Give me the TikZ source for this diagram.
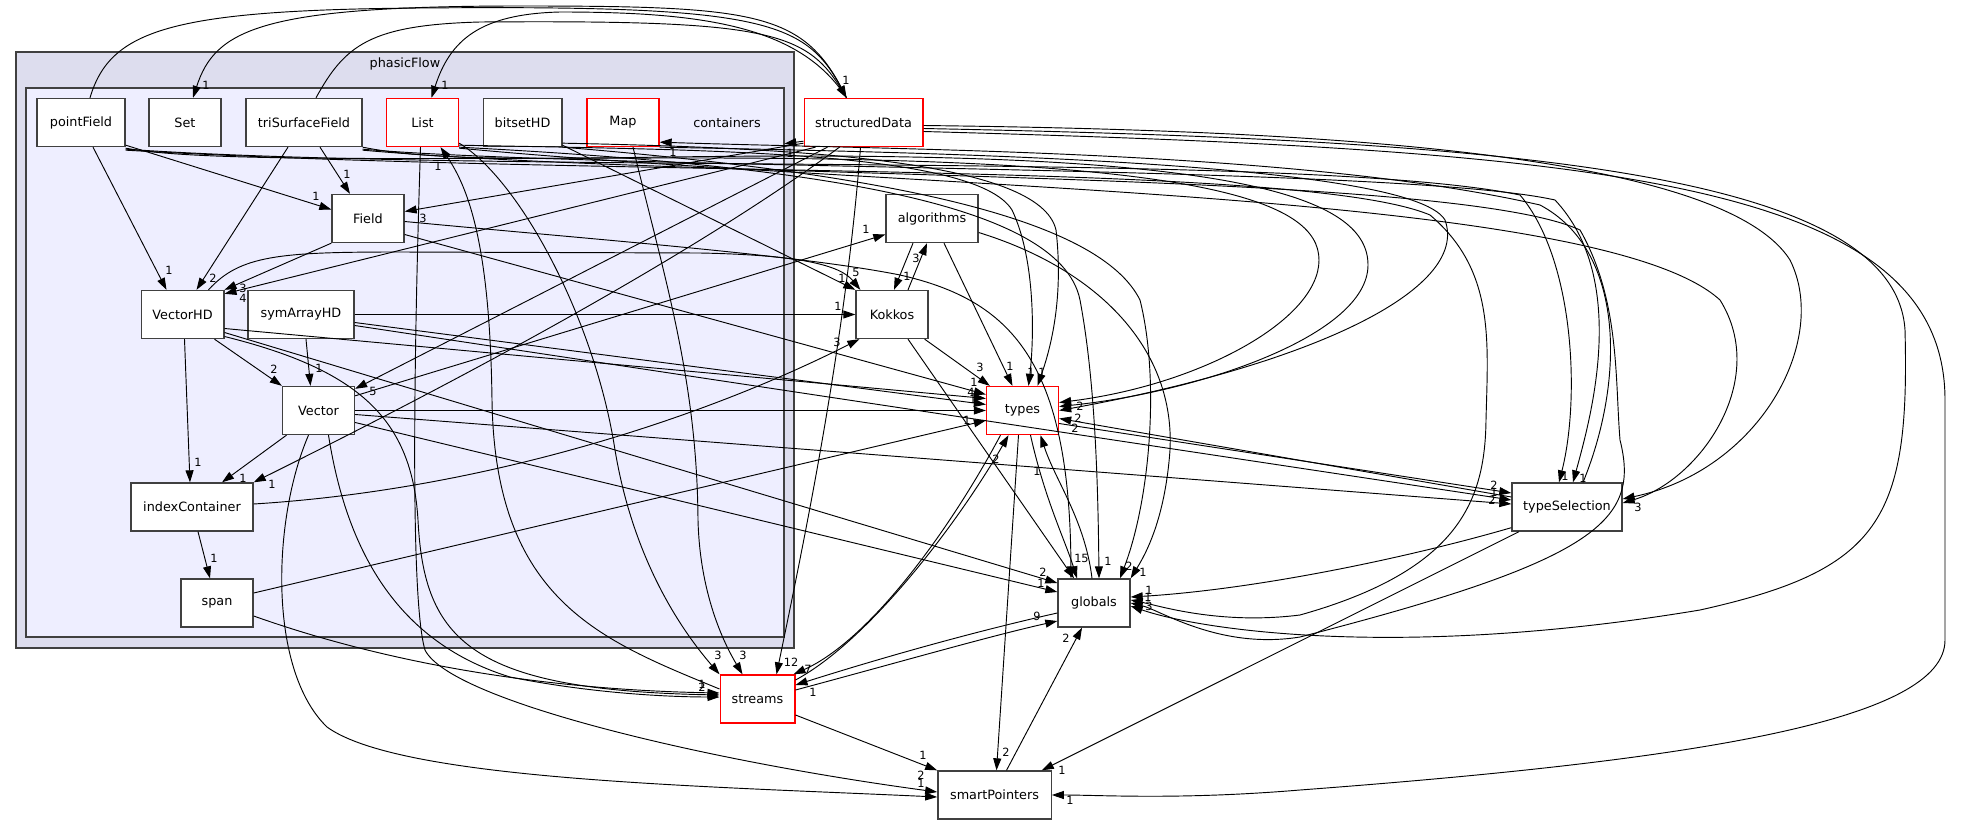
\documentclass[tikz,border=0pt]{standalone}
\usepackage{fontspec}
\setmainfont{DejaVu Sans}
\usetikzlibrary{arrows.meta,calc}
\definecolor{outerfill}{HTML}{DDDDEE}
\definecolor{innerfill}{HTML}{EEEEFF}
\definecolor{boxgray}{HTML}{404040}
\tikzset{
  dirbox/.style={draw=boxgray, line width=1pt, fill=white, minimum height=36pt,
    inner sep=0pt, font=\fontsize{9.6}{11}\selectfont},
  reddir/.style={dirbox, draw=red},
  dep/.style={draw=black, line width=0.7pt, -{Triangle[length=9pt,width=6pt]}},
  cnt/.style={font=\fontsize{8.5}{10}\selectfont, inner sep=0pt},
}
\begin{document}
\begin{tikzpicture}[x=0.75pt,y=-0.75pt]
\useasboundingbox (0,0) rectangle (1971,824);

% clusters
\draw[boxgray, fill=outerfill, line width=1pt] (16,52) rectangle (794,648);
\node[font=\fontsize{9.6}{11}\selectfont] (phasicFlow) at (405,64) {phasicFlow};
\draw[boxgray, fill=innerfill, line width=1pt] (26,88) rectangle (784,637);
\node[font=\fontsize{9.6}{11}\selectfont, minimum width=85.5pt, minimum height=36pt, inner sep=0pt] (containers) at (727,122.5) {containers};

% directories
\node[dirbox, minimum width=66pt] (pointField) at (81,122.5) {pointField};
\node[dirbox, minimum width=54pt] (Set) at (185,122.5) {Set};
\node[dirbox, minimum width=87pt] (triSurfaceField) at (304,122.5) {triSurfaceField};
\node[reddir, minimum width=54pt] (List) at (422.5,122.5) {List};
\node[dirbox, minimum width=59pt] (bitsetHD) at (522.5,122.5) {bitsetHD};
\node[reddir, minimum width=54pt] (Map) at (623,122.5) {Map};
\node[reddir, minimum width=89pt] (structuredData) at (863.5,122.5) {structuredData};
\node[dirbox, minimum width=54pt] (Field) at (368,218.5) {Field};
\node[dirbox, minimum width=69pt] (algorithms) at (932,218.5) {algorithms};
\node[dirbox, minimum width=62pt] (VectorHD) at (182.5,314.5) {VectorHD};
\node[dirbox, minimum width=79.5pt] (symArrayHD) at (301,314.5) {symArrayHD};
\node[dirbox, minimum width=54pt] (Kokkos) at (892,314.5) {Kokkos};
\node[dirbox, minimum width=54pt] (Vector) at (318.5,410.5) {Vector};
\node[reddir, minimum width=54pt] (types) at (1022.5,410.5) {types};
\node[dirbox, minimum width=91.5pt] (indexContainer) at (192,507) {indexContainer};
\node[dirbox, minimum width=82.5pt] (typeSelection) at (1567,507) {typeSelection};
\node[dirbox, minimum width=54pt] (span) at (217,603) {span};
\node[dirbox, minimum width=54pt] (globals) at (1094,603) {globals};
\node[reddir, minimum width=56pt] (streams) at (757.5,699) {streams};
\node[dirbox, minimum width=85pt] (smartPointers) at (994.5,795) {smartPointers};

% arcs over the top
\draw[dep] ($(pointField.north)+(9,0)$) .. controls (110,30) and (170,10) .. (420,8) .. controls (760,5) and (805,20) .. ($(structuredData.north)+(-17,0)$) node[cnt] at (846,80) {1};
\draw[dep] ($(triSurfaceField.north)+(12,0)$) .. controls (345,45) and (370,25) .. (480,22) .. controls (760,20) and (805,30) .. ($(structuredData.north)+(-17,0)$);
\draw[dep] ($(structuredData.north)+(-17,0)$) .. controls (805,12) and (760,6) .. (520,6) .. controls (260,6) and (215,30) .. ($(Set.north)+(8,0)$) node[cnt] at (206,85) {1};
\draw[dep] ($(structuredData.north)+(-17,0)$) .. controls (800,25) and (700,12) .. (560,12) .. controls (480,14) and (450,40) .. ($(List.north)+(9,0)$) node[cnt] at (445,85) {1};

% inside containers
\draw[dep] ($(pointField.south)+(12,0)$) -- ($(VectorHD.north)+(-16,0)$) node[cnt] at (169,270) {1};
\draw[dep] ($(pointField.south east)+(0,-2)$) -- ($(Field.west)+(0,-9)$) node[cnt] at (316,196) {1};
\draw[dep] ($(triSurfaceField.south)+(-16,0)$) -- ($(VectorHD.north)+(14,0)$) node[cnt] at (213,278) {2};
\draw[dep] ($(triSurfaceField.south)+(16,0)$) -- ($(Field.north)+(-18,0)$) node[cnt] at (347,174) {1};
\draw[dep] (Field.south west) -- (VectorHD.north east) node[cnt] at (243,288) {3};
\draw[dep] ($(structuredData.south west)+(12,0)$) -- ($(VectorHD.north east)+(0,4)$) node[cnt] at (243,298) {4};
\draw[dep] ($(structuredData.south west)+(0,-4)$) -- ($(Field.east)+(0,-7)$) node[cnt] at (423,218) {3};
\draw[dep] ($(VectorHD.south)+(32,0)$) -- (Vector.north west) node[cnt] at (274,369) {2};
\draw[dep] ($(symArrayHD.south)+(5,0)$) -- ($(Vector.north)+(-8,0)$) node[cnt] at (319,368) {1};
\draw[dep] ($(VectorHD.south)+(2,0)$) -- ($(indexContainer.north)+(-2,0)$) node[cnt] at (198,462) {1};
\draw[dep] ($(Vector.south)+(-32,0)$) -- ($(indexContainer.north)+(30,0)$) node[cnt] at (243,478) {1};
\draw[dep] ($(structuredData.south west)+(36,0)$) .. controls (700,250) and (480,370) .. (indexContainer.north east) node[cnt] at (272,484) {1};
\draw[dep] ($(structuredData.south west)+(24,0)$) -- ($(Vector.north east)+(0,3)$) node[cnt] at (373,391) {5};
\draw[dep] ($(indexContainer.south)+(6,0)$) -- ($(span.north)+(-7,0)$) node[cnt] at (214,558) {1};
\draw[dep] ($(indexContainer.east)+(0,-3)$) .. controls (480,490) and (700,420) .. ($(Kokkos.south west)+(4,0)$) node[cnt] at (837,342) {3};
\draw[dep] ($(Vector.north east)+(0,10)$) -- ($(algorithms.west)+(0,16)$) node[cnt] at (866,229) {1};
\draw[dep] ($(structuredData.south west)+(0,-6)$) -- ($(containers.south east)+(0,-3)$) node[cnt] at (790,153) {1};

% Kokkos and algorithms
\draw[dep] ($(algorithms.south)+(-19,0)$) -- ($(Kokkos.north)+(2,0)$) node[cnt] at (907,276) {1};
\draw[dep] ($(Kokkos.north)+(16,0)$) -- ($(algorithms.south)+(-5,0)$) node[cnt] at (916,258) {3};
\draw[dep] ($(VectorHD.north east)+(-16,0)$) .. controls (240,255) and (280,252) .. (400,252) -- (700,253) .. controls (800,255) and (840,265) .. ($(Kokkos.north west)+(5,0)$) node[cnt] at (856,272) {5};
\draw[dep] ($(bitsetHD.south east)+(0,-2)$) -- (Kokkos.north west) node[cnt] at (842,278) {1};
\draw[dep] (symArrayHD.east) -- (Kokkos.west) node[cnt] at (838,306) {1};
\draw[dep] ($(Kokkos.south east)+(-4,0)$) -- ($(types.north west)+(4,0)$) node[cnt] at (980,367) {3};
\draw[dep] ($(algorithms.south)+(12,0)$) -- ($(types.north)+(-10,0)$) node[cnt] at (1010,366) {1};
\draw[dep] ($(Kokkos.south)+(16,0)$) -- ($(globals.north)+(-20,0)$) node[cnt] at (1078,558) {1};
\draw[dep] ($(algorithms.east)+(0,14)$) .. controls (1100,270) and (1175,350) .. (1170,450) .. controls (1165,520) and (1145,555) .. (globals.north east) node[cnt] at (1143,572) {1};
\draw[dep] ($(Field.east)+(0,3)$) .. controls (600,240) and (800,255) .. (900,275) .. controls (1010,300) and (1070,360) .. ($(globals.north)+(-23,0)$);

% types, globals, streams, smartPointers
\draw[dep] ($(types.south)+(8,0)$) .. controls (1045,500) and (1065,540) .. ($(globals.north)+(-17,0)$) node[cnt] at (1085,558) {5};
\draw[dep] ($(globals.north)+(-2,0)$) .. controls (1085,520) and (1055,480) .. ($(types.south)+(18,0)$) node[cnt] at (1037,471) {1};
\draw[dep] ($(types.south)+(-22,0)$) .. controls (950,530) and (870,640) .. ($(streams.north east)+(-2,0)$) node[cnt] at (808,669) {7};
\draw[dep] ($(streams.east)+(0,-19)$) .. controls (870,640) and (960,520) .. ($(types.south)+(-14,0)$) node[cnt] at (996,459) {2};
\draw[dep] ($(streams.east)+(0,-9)$) .. controls (900,662) and (990,636) .. ($(globals.west)+(0,18)$) node[cnt] at (1037,616) {9};
\draw[dep] ($(globals.west)+(0,10)$) .. controls (990,628) and (900,652) .. ($(streams.east)+(0,-14)$) node[cnt] at (813,692) {1};
\draw[dep] ($(streams.east)+(0,16)$) -- (smartPointers.north west) node[cnt] at (923,755) {1};
\draw[dep] ($(smartPointers.north)+(12,0)$) -- ($(globals.south)+(-12,0)$) node[cnt] at (1066,638) {2};
\draw[dep] ($(types.south)+(-4,0)$) -- ($(smartPointers.north)+(2,0)$) node[cnt] at (1006,752) {2};
\draw[dep] ($(typeSelection.west)+(0,-10)$) -- ($(types.east)+(0,8)$) node[cnt] at (1075,428) {2};
\draw[dep] ($(types.east)+(0,13)$) -- ($(typeSelection.west)+(0,-14)$) node[cnt] at (1494,485) {2};
\draw[dep] ($(typeSelection.south west)+(0,-4)$) .. controls (1400,560) and (1250,590) .. ($(globals.east)+(0,-6)$) node[cnt] at (1149,590) {1};
\draw[dep] ($(typeSelection.south)+(-48,0)$) -- ($(smartPointers.north east)+(-10,0)$) node[cnt] at (1062,770) {1};

% into types from the left
\draw[dep] ($(Field.east)+(0,16)$) -- ($(types.west)+(0,-16)$) node[cnt] at (974,382) {1};
\draw[dep] ($(VectorHD.east)+(0,14)$) -- ($(types.west)+(0,-12)$) node[cnt] at (971,392) {4};
\draw[dep] ($(symArrayHD.east)+(0,8)$) -- ($(types.west)+(0,-6)$) node[cnt] at (973,399) {1};
\draw[dep] (Vector.east) -- (types.west);
\draw[dep] ($(span.east)+(0,-10)$) -- ($(types.west)+(0,10)$) node[cnt] at (967,420) {1};

% into typeSelection and globals from the left
\draw[dep] ($(symArrayHD.east)+(0,11)$) -- ($(typeSelection.west)+(0,-7)$) node[cnt] at (1494,492) {1};
\draw[dep] ($(Vector.east)+(0,4)$) -- ($(typeSelection.west)+(0,-3)$) node[cnt] at (1492,500) {2};
\draw[dep] ($(VectorHD.east)+(0,18)$) -- ($(globals.west)+(0,-20)$) node[cnt] at (1043,572) {2};
\draw[dep] ($(Vector.east)+(0,12)$) -- ($(globals.west)+(0,-11)$) node[cnt] at (1041,583) {1};

% into streams
\draw[dep] ($(VectorHD.east)+(0,22)$) .. controls (360,370) and (412,420) .. (418,520) .. controls (424,640) and (470,690) .. ($(streams.west)+(0,-4)$) node[cnt] at (702,684) {1};
\draw[dep] ($(Vector.south)+(10,0)$) .. controls (345,540) and (390,640) .. (510,677) .. controls (600,695) and (680,697) .. ($(streams.west)+(0,-2)$) node[cnt] at (702,687) {2};
\draw[dep] ($(span.east)+(0,13)$) .. controls (400,668) and (560,690) .. ($(streams.west)+(0,-6)$);
\draw[dep] ($(List.south east)+(0,-4)$) .. controls (520,180) and (595,320) .. (615,450) .. controls (635,570) and (690,640) .. (streams.north west) node[cnt] at (718,655) {3};
\draw[dep] ($(Map.south)+(10,0)$) .. controls (665,280) and (697,380) .. (698,520) .. controls (700,600) and (728,650) .. ($(streams.north)+(-15,0)$) node[cnt] at (743,655) {3};
\draw[dep] ($(structuredData.south)+(-3,0)$) .. controls (845,350) and (800,560) .. ($(streams.north)+(19,0)$) node[cnt] at (791,662) {12};
\draw[dep] ($(streams.west)+(0,-10)$) .. controls (600,640) and (495,600) .. (492,400) .. controls (490,250) and (470,190) .. ($(List.south)+(18,0)$) node[cnt] at (438,166) {1};

% into smartPointers from the left
\draw[dep] ($(List.south)+(-2,0)$) .. controls (414,350) and (410,600) .. (425,650) .. controls (450,700) and (700,760) .. ($(smartPointers.west)+(0,-3)$) node[cnt] at (921,775) {2};
\draw[dep] ($(Vector.south)+(-10,0)$) .. controls (272,520) and (268,670) .. (327,727) .. controls (400,780) and (700,786) .. ($(smartPointers.west)+(0,2)$) node[cnt] at (921,783) {1};

% long edges round the right
\draw[dep] ($(List.south east)+(0,-2)$) .. controls (700,150) and (975,150) .. (1012,210) .. controls (1036,260) and (1034,340) .. ($(types.north)+(6,0)$) node[cnt] at (1031,372) {1};
\draw[dep] ($(bitsetHD.south east)+(0,-4)$) .. controls (800,148) and (1040,160) .. (1056,230) .. controls (1064,300) and (1050,350) .. ($(types.north)+(15,0)$) node[cnt] at (1042,372) {1};
\draw[dep] (List.south east) .. controls (800,165) and (1060,200) .. (1080,300) .. controls (1095,380) and (1098,480) .. ($(globals.north)+(5,0)$) node[cnt] at (1108,561) {1};
\draw[dep] (bitsetHD.south east) .. controls (900,175) and (1100,220) .. (1140,300) .. controls (1160,380) and (1150,500) .. ($(globals.north)+(26,0)$) node[cnt] at (1129,566) {2};
\draw[dep] ($(pointField.south east)+(0,1)$) .. controls (200,162) and (400,158) .. (700,158) .. controls (1200,158) and (1319,200) .. (1319,260) .. controls (1319,320) and (1200,385) .. ($(types.east)+(0,-8)$) node[cnt] at (1080,406) {2};
\draw[dep] (triSurfaceField.south east) .. controls (450,165) and (600,156) .. (800,156) .. controls (1250,156) and (1368,200) .. (1368,265) .. controls (1368,335) and (1200,392) .. ($(types.east)+(0,-4)$) node[cnt] at (1078,418) {2};
\draw[dep] (Map.south east) .. controls (900,152) and (1410,160) .. (1445,220) .. controls (1470,290) and (1310,365) .. (types.east);
\draw[dep] ($(pointField.south east)+(0,2)$) .. controls (500,175) and (1300,150) .. (1520,195) .. controls (1575,260) and (1580,400) .. ($(typeSelection.north)+(-8,0)$) node[cnt] at (1565,476) {1};
\draw[dep] ($(triSurfaceField.south east)+(0,2)$) .. controls (600,170) and (1400,165) .. (1555,200) .. controls (1630,280) and (1590,420) .. ($(typeSelection.north)+(6,0)$) node[cnt] at (1583,478) {1};
\draw[dep] ($(typeSelection.north)+(16,0)$) .. controls (1625,380) and (1625,250) .. (1540,205) .. controls (1300,150) and (900,150) .. ($(Map.south east)+(0,-5)$) node[cnt] at (673,152) {1};
\draw[dep] ($(structuredData.east)+(0,3)$) .. controls (1300,130) and (1720,150) .. (1790,260) .. controls (1830,340) and (1760,470) .. ($(typeSelection.east)+(0,-8)$) node[cnt] at (1638,507) {3};
\draw[dep] ($(List.south east)+(0,1)$) .. controls (900,190) and (1600,190) .. (1720,300) .. controls (1770,380) and (1700,480) .. ($(typeSelection.east)+(0,-4)$);
\draw[dep] ($(pointField.south east)+(0,3)$) .. controls (600,178) and (1300,160) .. (1430,215) .. controls (1495,270) and (1488,340) .. (1486,420) .. controls (1485,500) and (1460,570) .. (1300,615) .. controls (1220,625) and (1160,606) .. ($(globals.east)+(0,-3)$) node[cnt] at (1148,597) {1};
\draw[dep] ($(triSurfaceField.south east)+(0,3)$) .. controls (700,180) and (1450,170) .. (1580,230) .. controls (1620,300) and (1615,380) .. (1620,440) .. controls (1640,520) and (1600,560) .. (1300,637) .. controls (1220,650) and (1160,610) .. (globals.east);
\draw[dep] ($(structuredData.east)+(0,6)$) .. controls (1500,140) and (1895,170) .. (1905,330) .. controls (1910,520) and (1880,570) .. (1700,610) .. controls (1400,660) and (1200,630) .. ($(globals.east)+(0,3)$) node[cnt] at (1149,606) {3};
\draw[dep] ($(structuredData.east)+(0,9)$) .. controls (1600,150) and (1945,180) .. (1945,400) -- (1945,640) .. controls (1945,720) and (1700,760) .. (1300,790) .. controls (1180,800) and (1100,795) .. (smartPointers.east) node[cnt] at (1070,800) {1};
\end{tikzpicture}
\end{document}
